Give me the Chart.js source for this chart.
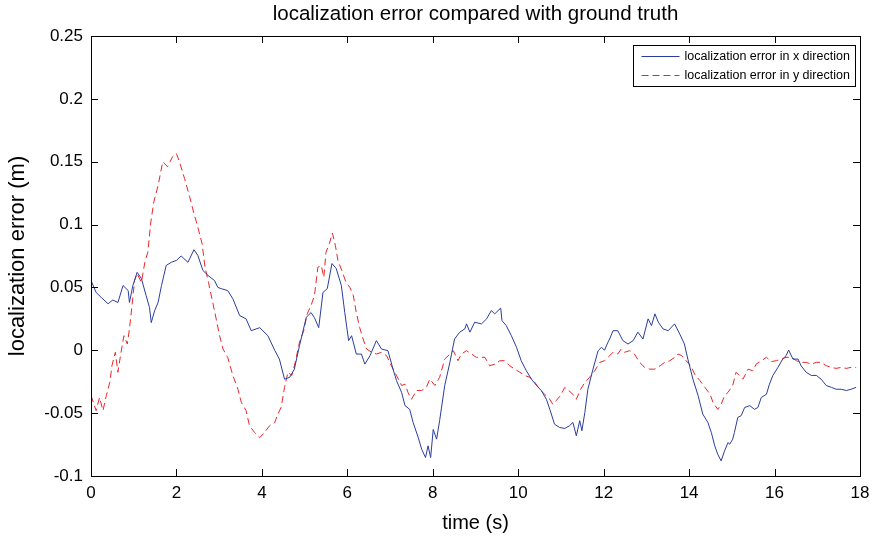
<!DOCTYPE html>
<html>
<head>
<meta charset="utf-8">
<script src="https://cdn.jsdelivr.net/npm/chart.js@4.4.1/dist/chart.umd.min.js"></script>
<style>
  html, body { margin: 0; padding: 0; background: #fff; }
  #wrap { width: 880px; height: 538px; }
</style>
</head>
<body>
<div id="wrap"><canvas id="grafik"></canvas></div>
<script>
// time (s) and error (m)
var tX = [0.00,0.12,0.24,0.40,0.51,0.63,0.75,0.87,0.90,0.98,1.08,1.18,1.29,1.37,1.41,1.49,1.57,1.65,1.76,1.88,2.00,2.11,2.27,2.41,2.50,2.62,2.74,2.89,2.97,3.05,3.20,3.32,3.48,3.63,3.75,3.95,4.14,4.30,4.41,4.53,4.65,4.76,4.88,5.04,5.15,5.23,5.33,5.43,5.53,5.64,5.74,5.86,5.94,6.03,6.10,6.21,6.33,6.41,6.53,6.68,6.80,6.95,7.07,7.15,7.27,7.35,7.46,7.54,7.66,7.74,7.83,7.89,7.95,8.01,8.09,8.16,8.28,8.40,8.51,8.63,8.75,8.79,8.87,8.98,9.14,9.26,9.37,9.45,9.53,9.59,9.62,9.72,9.84,9.96,10.07,10.19,10.31,10.43,10.54,10.66,10.74,10.85,10.97,11.09,11.20,11.28,11.36,11.44,11.49,11.56,11.63,11.75,11.87,11.95,12.02,12.10,12.14,12.22,12.33,12.45,12.57,12.69,12.80,12.92,13.04,13.12,13.20,13.28,13.39,13.51,13.66,13.78,13.89,13.97,14.09,14.21,14.32,14.44,14.52,14.60,14.67,14.75,14.83,14.91,14.95,15.02,15.06,15.14,15.22,15.30,15.42,15.53,15.61,15.69,15.81,15.88,15.96,16.08,16.19,16.27,16.33,16.43,16.55,16.62,16.74,16.86,16.98,17.09,17.21,17.33,17.44,17.56,17.68,17.79,17.91];
var errX = [0.0555,0.046,0.042,0.037,0.040,0.038,0.0515,0.0475,0.038,0.0515,0.062,0.057,0.0435,0.034,0.022,0.0315,0.038,0.0515,0.0675,0.070,0.0715,0.075,0.070,0.080,0.0755,0.0635,0.0595,0.0555,0.050,0.049,0.0475,0.041,0.0276,0.025,0.0156,0.018,0.0116,0.0,-0.007,-0.023,-0.0215,-0.015,0.0037,0.0263,0.030,0.026,0.018,0.046,0.049,0.069,0.065,0.0515,0.030,0.0077,0.0116,-0.003,-0.003,-0.011,-0.0043,0.0077,0.001,-0.0003,-0.015,-0.024,-0.0335,-0.044,-0.047,-0.0575,-0.0694,-0.0787,-0.0853,-0.076,-0.0853,-0.063,-0.0707,-0.056,-0.028,-0.0096,0.009,0.0144,0.017,0.021,0.0144,0.0223,0.021,0.025,0.0316,0.029,0.0316,0.0335,0.0236,0.0196,0.0116,0.0024,-0.0083,-0.0163,-0.023,-0.028,-0.032,-0.039,-0.047,-0.0588,-0.0614,-0.0622,-0.060,-0.0574,-0.068,-0.056,-0.064,-0.0494,-0.031,-0.015,-0.0003,0.0024,0.0,0.0064,0.009,0.0156,0.0156,0.0077,0.005,0.0077,0.0144,0.009,0.025,0.0196,0.029,0.0223,0.017,0.0156,0.021,0.013,0.005,-0.007,-0.023,-0.036,-0.0508,-0.0574,-0.0654,-0.076,-0.0827,-0.088,-0.080,-0.0734,-0.0747,-0.0707,-0.0654,-0.0534,-0.052,-0.0455,-0.044,-0.047,-0.0455,-0.0375,-0.035,-0.027,-0.020,-0.0136,-0.007,-0.0043,0.0002,-0.007,-0.007,-0.0123,-0.0175,-0.020,-0.020,-0.023,-0.028,-0.0295,-0.031,-0.031,-0.032,-0.031,-0.0295];

var tY = [0.00,0.12,0.20,0.28,0.36,0.44,0.49,0.57,0.63,0.69,0.77,0.85,0.90,0.96,1.02,1.08,1.18,1.26,1.33,1.40,1.47,1.57,1.68,1.79,1.91,2.00,2.07,2.19,2.31,2.41,2.50,2.60,2.67,2.75,2.83,2.93,3.01,3.09,3.20,3.32,3.44,3.52,3.63,3.71,3.83,3.95,4.06,4.18,4.30,4.37,4.45,4.53,4.61,4.70,4.78,4.88,4.98,5.06,5.15,5.23,5.31,5.39,5.45,5.50,5.58,5.65,5.72,5.78,5.87,5.97,6.06,6.14,6.21,6.29,6.37,6.45,6.57,6.68,6.80,6.92,7.03,7.15,7.27,7.35,7.42,7.50,7.62,7.74,7.85,7.93,8.05,8.16,8.28,8.40,8.48,8.59,8.67,8.79,8.91,9.02,9.10,9.22,9.33,9.45,9.57,9.68,9.80,9.92,10.04,10.15,10.27,10.39,10.50,10.62,10.74,10.81,10.89,10.99,11.09,11.18,11.28,11.36,11.46,11.56,11.67,11.79,11.91,12.02,12.10,12.22,12.33,12.41,12.49,12.61,12.72,12.84,12.96,13.08,13.20,13.32,13.43,13.55,13.66,13.74,13.83,13.93,14.04,14.13,14.25,14.37,14.49,14.56,14.67,14.75,14.83,14.91,15.02,15.10,15.26,15.38,15.49,15.57,15.69,15.81,15.92,16.04,16.16,16.27,16.39,16.51,16.62,16.74,16.86,16.98,17.09,17.21,17.33,17.44,17.56,17.68,17.79,17.91];
var errY = [-0.036,-0.048,-0.0375,-0.048,-0.036,-0.0255,-0.0123,-0.0016,-0.0175,-0.0043,0.0116,0.005,0.017,0.0356,0.0555,0.061,0.054,0.070,0.078,0.102,0.118,0.131,0.150,0.146,0.154,0.1565,0.150,0.1366,0.122,0.1087,0.098,0.0848,0.066,0.054,0.041,0.025,0.0116,0.001,-0.0056,-0.020,-0.031,-0.0415,-0.048,-0.060,-0.0654,-0.0694,-0.0654,-0.060,-0.0574,-0.051,-0.0455,-0.0295,-0.0175,-0.020,-0.0096,0.0064,0.0156,0.029,0.0356,0.0435,0.066,0.0675,0.058,0.078,0.0848,0.0933,0.0834,0.0715,0.0635,0.054,0.050,0.0435,0.030,0.018,0.009,0.001,-0.0016,-0.003,-0.0016,-0.0043,-0.0123,-0.020,-0.028,-0.027,-0.0335,-0.039,-0.032,-0.032,-0.0295,-0.023,-0.028,-0.0215,-0.007,-0.003,-0.0003,-0.0083,-0.003,-0.0003,-0.003,-0.0056,-0.0056,-0.0056,-0.0123,-0.011,-0.0083,-0.0083,-0.0123,-0.015,-0.0175,-0.020,-0.0215,-0.0255,-0.031,-0.035,-0.039,-0.043,-0.040,-0.036,-0.0295,-0.032,-0.035,-0.039,-0.031,-0.0255,-0.0215,-0.0163,-0.0096,-0.0083,-0.0056,-0.0016,-0.003,0.001,-0.0016,-0.0003,-0.003,-0.0096,-0.0136,-0.015,-0.015,-0.0123,-0.0096,-0.0083,-0.0056,-0.003,-0.0043,-0.0083,-0.0123,-0.019,-0.024,-0.0295,-0.035,-0.0415,-0.047,-0.043,-0.036,-0.0335,-0.028,-0.0175,-0.023,-0.015,-0.0163,-0.011,-0.0083,-0.0056,-0.009,-0.0083,-0.007,-0.0056,-0.0056,-0.0083,-0.0096,-0.0096,-0.011,-0.0096,-0.0096,-0.0123,-0.0136,-0.0144,-0.0136,-0.0144,-0.0136,-0.0136];

var xTicks = [0, 2, 4, 6, 8, 10, 12, 14, 16, 18];
var yTicks = [-0.1, -0.05, 0, 0.05, 0.1, 0.15, 0.2, 0.25];
var yTickLabels = ["-0.1", "-0.05", "0", "0.05", "0.1", "0.15", "0.2", "0.25"];

var FONT = "'Liberation Sans', Arial, Helvetica, sans-serif";
var BIRU = "#2b3c9e";
var MERAH = "#e8262b";

function pasangkan(t, v) {
  var hasil = [];
  for (var i = 0; i < t.length; i++) hasil.push({ x: t[i], y: v[i] });
  return hasil;
}

// ticks inward on all four sides + box + legend, matlab style
var kotakPlugin = {
  id: "kotak",
  afterDatasetsDraw: function (chart) {
    var ctx = chart.ctx;
    var a = chart.chartArea;
    var sx = chart.scales.x, sy = chart.scales.y;
    var panjang = 7;
    ctx.save();
    ctx.strokeStyle = "#000";
    ctx.lineWidth = 1;
    ctx.beginPath();
    xTicks.forEach(function (v) {
      var px = Math.round(sx.getPixelForValue(v)) + 0.5;
      ctx.moveTo(px, a.bottom); ctx.lineTo(px, a.bottom - panjang);
      ctx.moveTo(px, a.top); ctx.lineTo(px, a.top + panjang);
    });
    yTicks.forEach(function (v) {
      var py = Math.round(sy.getPixelForValue(v)) + 0.5;
      ctx.moveTo(a.left, py); ctx.lineTo(a.left + panjang, py);
      ctx.moveTo(a.right, py); ctx.lineTo(a.right - panjang, py);
    });
    ctx.stroke();
    ctx.strokeRect(Math.round(a.left) + 0.5, Math.round(a.top) + 0.5,
      Math.round(a.right - a.left), Math.round(a.bottom - a.top));

    // legend box
    ctx.font = "12.5px " + FONT;
    var lebarTeks = 0;
    chart.data.datasets.forEach(function (ds) {
      lebarTeks = Math.max(lebarTeks, ctx.measureText(ds.label).width);
    });
    var kanan = Math.round(a.right) - 4.5;
    var atas = Math.round(a.top) + 9.5;
    var lebar = Math.round(8 + 38 + 5 + lebarTeks + 6);
    var kiri = kanan - lebar;
    var tinggi = 41;
    ctx.fillStyle = "#fff";
    ctx.fillRect(kiri, atas, lebar, tinggi);
    ctx.strokeRect(kiri, atas, lebar, tinggi);
    chart.data.datasets.forEach(function (ds, i) {
      var y = atas + 11 + i * 19;
      ctx.strokeStyle = ds.borderColor;
      ctx.setLineDash(ds.borderDash || []);
      ctx.beginPath();
      ctx.moveTo(kiri + 8, y); ctx.lineTo(kiri + 46, y);
      ctx.stroke();
      ctx.setLineDash([]);
      ctx.fillStyle = "#000";
      ctx.textBaseline = "middle";
      ctx.textAlign = "left";
      ctx.fillText(ds.label, kiri + 51, y);
    });
    ctx.restore();
  }
};

const config = {
  type: "line",
  data: {
    datasets: [
      {
        label: "localization error in x direction",
        data: pasangkan(tX, errX),
        borderColor: BIRU,
        borderWidth: 1,
        pointRadius: 0,
        tension: 0,
        fill: false
      },
      {
        label: "localization error in y direction",
        data: pasangkan(tY, errY),
        borderColor: MERAH,
        borderWidth: 1,
        borderDash: [7, 4],
        pointRadius: 0,
        tension: 0,
        fill: false
      }
    ]
  },
  options: {
    responsive: true,
    maintainAspectRatio: false,
    animation: false,
    layout: { padding: { left: 0, right: 20, top: 0, bottom: 0 } },
    plugins: {
      legend: { display: false },
      tooltip: { enabled: false },
      title: {
        display: true,
        fullSize: false,
        text: "localization error compared with ground truth",
        color: "#000",
        font: { family: FONT, size: 20.5, weight: "normal" },
        padding: { top: 2, bottom: 9.4 }
      }
    },
    scales: {
      x: {
        type: "linear",
        min: 0,
        max: 18,
        afterBuildTicks: function (scale) {
          scale.ticks = xTicks.map(function (v) { return { value: v }; });
        },
        afterFit: function (scale) { scale.height = 62; },
        grid: { display: false, drawTicks: false },
        border: { display: false },
        ticks: {
          color: "#000",
          padding: 7,
          maxRotation: 0,
          font: { family: FONT, size: 17 },
          callback: function (v) { return String(v); }
        },
        title: {
          display: true,
          text: "time (s)",
          color: "#000",
          font: { family: FONT, size: 20 },
          padding: { top: 0, bottom: 3 }
        }
      },
      y: {
        type: "linear",
        min: -0.1,
        max: 0.25,
        afterBuildTicks: function (scale) {
          scale.ticks = yTicks.map(function (v) { return { value: v }; });
        },
        afterFit: function (scale) { scale.width = 91; },
        grid: { display: false, drawTicks: false },
        border: { display: false },
        ticks: {
          color: "#000",
          padding: 8,
          font: { family: FONT, size: 17 },
          callback: function (v, i) { return yTickLabels[i]; }
        },
        title: {
          display: true,
          text: "localization error (m)",
          color: "#000",
          font: { family: FONT, size: 22 },
          padding: { top: 5, bottom: 0 }
        }
      }
    }
  },
  plugins: [kotakPlugin]
};

const grafik = document.getElementById("grafik").getContext("2d");
const grafik_garis = new Chart(grafik, config);
</script>
</body>
</html>
